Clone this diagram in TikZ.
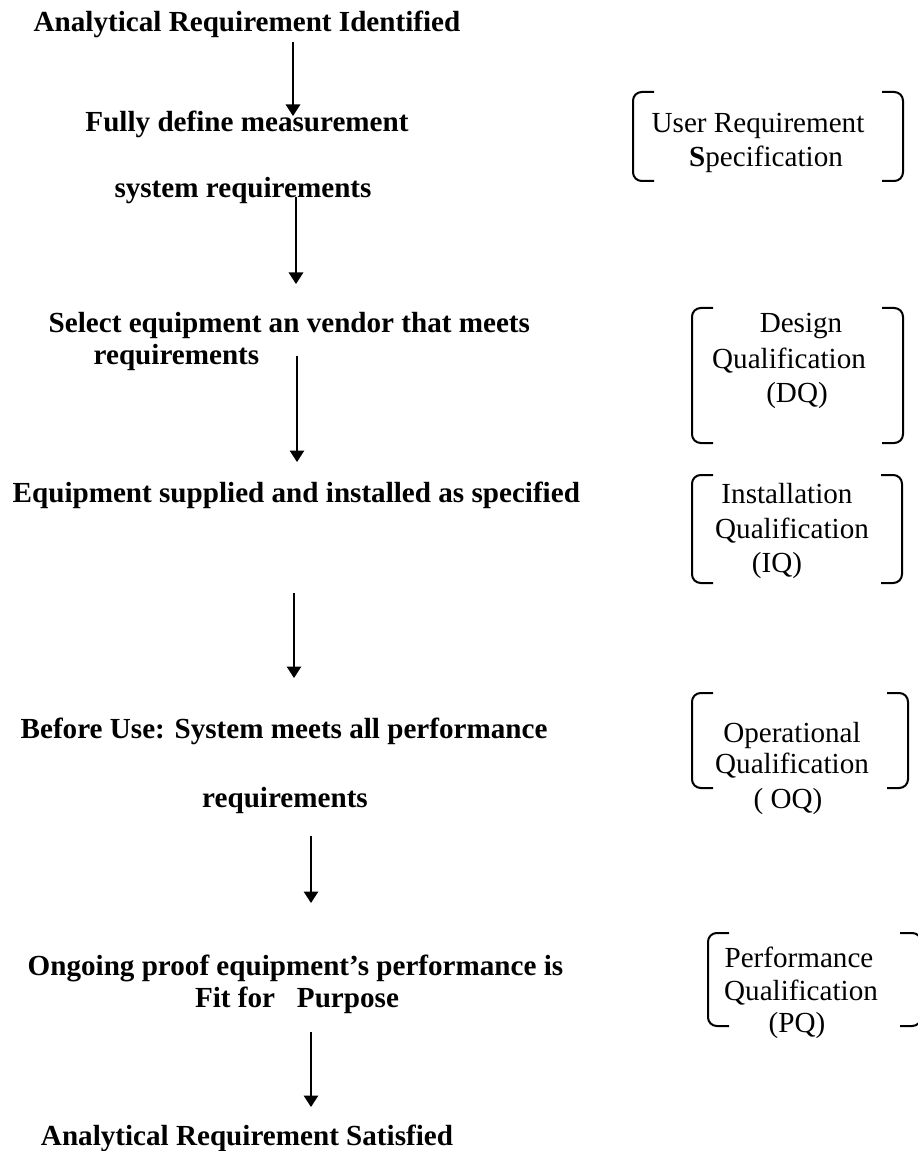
\documentclass[tikz,border=0pt]{standalone}
\usepackage{fontspec}
\setmainfont{Liberation Serif}
\usetikzlibrary{arrows.meta}

\newcommand{\twelve}{\fontsize{11.65}{13.4}\selectfont}
% a pair of round brackets: left x, right x, top y, bottom y
\newcommand{\qbrackets}[4]{%
  \draw[brack] (#1+21,#3) -- (#1,#3) -- (#1,#4) -- (#1+21,#4);
  \draw[brack] (#2-21,#3) -- (#2,#3) -- (#2,#4) -- (#2-21,#4);}

\begin{document}
\begin{tikzpicture}[x=0.4pt,y=-0.4pt,->,>={Triangle[width=5.8pt,length=4.6pt]},line width=0.55pt]
\tikzstyle{stage}=[font=\twelve\bfseries,inner sep=0pt]
\tikzstyle{qual}=[font=\twelve,inner sep=0pt,anchor=base]
\tikzstyle{brack}=[-,line width=0.8pt,rounded corners=3.5pt]

\clip (0,0) rectangle (918,1151);

% steps on the left
\node[stage,anchor=base]      (A) at (247,32)   {Analytical Requirement Identified};
\node[stage,anchor=base]      (B) at (247,132)  {Fully define measurement};
\node[stage,anchor=base]      (C) at (243,198)  {system requirements};
\node[stage,anchor=base west] (D) at (48,333)   {Select equipment an vendor that meets};
\node[stage,anchor=base west] (E) at (93,364)   {requirements};
\node[stage,anchor=base west] (F) at (12,502)   {Equipment supplied and installed as specified};
\node[stage,anchor=base west] (G) at (20,738)   {Before Use: System meets all performance};
\node[stage,anchor=base]      (H) at (285,807)  {requirements};
\node[stage,anchor=base west] (I) at (27,975)   {Ongoing proof equipment’s performance is};
\node[stage,anchor=base]      (J) at (297,1007) {Fit for\ \ \ Purpose};
\node[stage,anchor=base]      (K) at (247,1145) {Analytical Requirement Satisfied};

% qualification stages on the right
\node[qual] (U1) at (758,133) {User Requirement};
\node[qual] (U2) at (766,167) {\textbf{S}pecification};
\node[qual] (D1) at (801,333) {Design};
\node[qual] (D2) at (789,368) {Qualification};
\node[qual] (D3) at (797,403) {(DQ)};
\node[qual] (I1) at (787,503) {Installation};
\node[qual] (I2) at (792,538) {Qualification};
\node[qual] (I3) at (777,572) {(IQ)};
\node[qual] (O1) at (792,742) {Operational};
\node[qual] (O2) at (792,773) {Qualification};
\node[qual] (O3) at (788,808) {( OQ)};
\node[qual] (P1) at (799,967) {Performance};
\node[qual] (P2) at (801,1000) {Qualification};
\node[qual] (P3) at (797,1032) {(PQ)};

\qbrackets{633}{903}{92}{181}
\qbrackets{692}{903}{308}{443}
\qbrackets{692}{902}{475}{583}
\qbrackets{692}{908}{693}{788}
\qbrackets{708}{921}{933}{1026}

% arrow ends
\coordinate (s1) at (293,42);   \coordinate (t1) at (293,116);
\coordinate (s2) at (296,197);  \coordinate (t2) at (296,284);
\coordinate (s3) at (297,356);  \coordinate (t3) at (297,462);
\coordinate (s4) at (294,593);  \coordinate (t4) at (294,678);
\coordinate (s5) at (311,836);  \coordinate (t5) at (311,903);
\coordinate (s6) at (311,1032); \coordinate (t6) at (311,1107);

\path
(s1) edge (t1)
(s2) edge (t2)
(s3) edge (t3)
(s4) edge (t4)
(s5) edge (t5)
(s6) edge (t6)
;
\end{tikzpicture}
\end{document}
